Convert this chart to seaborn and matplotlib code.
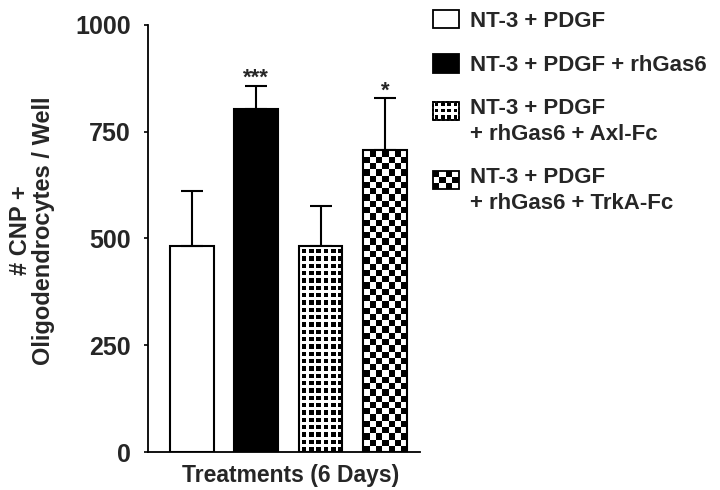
import numpy as np
import pandas as pd
import matplotlib
matplotlib.use("Agg")
import matplotlib.pyplot as plt
import seaborn as sns
from matplotlib.patches import Rectangle
from matplotlib.legend_handler import HandlerBase

# ---- data ----
treatments = ["NT-3 + PDGF", "NT-3 + PDGF + rhGas6",
              "NT-3 + PDGF + rhGas6 + Axl-Fc", "NT-3 + PDGF + rhGas6 + TrkA-Fc"]
legend_labels = ["NT-3 + PDGF", "NT-3 + PDGF + rhGas6",
                 "NT-3 + PDGF\n+ rhGas6 + Axl-Fc", "NT-3 + PDGF\n+ rhGas6 + TrkA-Fc"]
cnp_counts = [482, 803, 482, 707]
cnp_sem = [129, 55, 95, 121]
significance = ["", "***", "", "*"]
y_ticks = [0, 250, 500, 750, 1000]
patterns = ["white", "black", "dots", "checker"]

sns.set_theme(style="white")
plt.rcParams["font.family"] = ["Liberation Sans", "DejaVu Sans"]
plt.rcParams["font.weight"] = "bold"

df = pd.DataFrame({"treatment": treatments, "count": cnp_counts})

fig = plt.figure(figsize=(7.2, 4.9), dpi=100)
ax = fig.add_axes([148 / 720, 38 / 490, 272 / 720, 427 / 490])

face = {"white": "white", "black": "black", "dots": "white", "checker": "white"}
sns.barplot(data=df, x="treatment", y="count", hue="treatment",
            palette=[face[p] for p in patterns], edgecolor="black",
            linewidth=1.5, width=0.68, errorbar=None, legend=False, ax=ax,
            saturation=1)

ax.set_xlim(-0.684, 3.546)
ax.set_ylim(0, 1000)
ax.set_yticks(y_ticks)
ax.set_yticklabels([str(t) for t in y_ticks], fontsize=18, fontweight="bold")
ax.set_xticks([])
ax.tick_params(axis="y", length=3, width=1.2, pad=9.5, color="black", left=True)
for s in ["top", "right"]:
    ax.spines[s].set_visible(False)
for s in ["left", "bottom"]:
    ax.spines[s].set_color("black")
    ax.spines[s].set_linewidth(1.3)

ax.set_xlabel("Treatments (6 Days)", fontsize=16.5, fontweight="bold")
ax.xaxis.set_label_coords(0.526, -0.027)
ax.set_ylabel("# CNP +\nOligodendrocytes / Well", fontsize=17,
              fontweight="bold", linespacing=1.0)
ax.yaxis.set_label_coords(-0.342, 0.519)

bars = list(ax.patches)[:len(treatments)]

# pattern fills, generated at pixel resolution and clipped to each bar
fig.canvas.draw()
for bar, pat in zip(bars, patterns):
    if pat not in ("dots", "checker"):
        continue
    x0, y0 = bar.get_x(), bar.get_y()
    w, h = bar.get_width(), bar.get_height()
    (px0, py0), (px1, py1) = ax.transData.transform([(x0, y0), (x0 + w, y0 + h)])
    wpx, hpx = int(round(px1 - px0)), int(round(py1 - py0))
    rr, cc = np.mgrid[0:hpx, 0:wpx]
    if pat == "checker":
        sq = wpx / 7.0
        img = ((np.floor(rr / sq) + np.floor(cc / sq)) % 2 == 0).astype(float)
    else:
        pitch = wpx / 6.0
        rm = (rr % pitch) / pitch
        cm = (cc % pitch) / pitch
        img = 1.0 - (((rm > 0.32) & (rm < 0.95)) & ((cm > 0.3) & (cm < 0.93))).astype(float)
    im = ax.imshow(img, extent=(x0, x0 + w, y0, y0 + h), origin="upper",
                   cmap="gray", vmin=0, vmax=1, interpolation="nearest",
                   aspect="auto", zorder=1.5)
    im.set_clip_path(bar)
    bar.set_facecolor("none")
    bar.set_zorder(2)
ax.set_xlim(-0.684, 3.546)
ax.set_ylim(0, 1000)

# error bars (upper only) and significance stars
centers = [b.get_x() + b.get_width() / 2 for b in bars]
ax.errorbar(centers, cnp_counts, yerr=[np.zeros(len(cnp_sem)), cnp_sem],
            fmt="none", ecolor="black", elinewidth=1.5, capsize=8,
            capthick=1.5, zorder=1)
for c, v, e, s in zip(centers, cnp_counts, cnp_sem, significance):
    if s:
        ax.annotate(s, (c, v + e), xytext=(0, -2), textcoords="offset points",
                    ha="center", va="bottom", fontsize=16, fontweight="bold")


class PatternHandler(HandlerBase):
    def __init__(self, kind, shift=0.0):
        super().__init__()
        self.kind = kind
        self.shift = shift

    def create_artists(self, legend, orig_handle, xdescent, ydescent,
                       width, height, fontsize, trans):
        x0, y0 = -xdescent, -ydescent + self.shift * fontsize
        arts = [Rectangle((x0, y0), width, height,
                          facecolor="black" if self.kind == "black" else "white",
                          edgecolor="black", lw=1.3, transform=trans)]
        if self.kind == "checker":
            nx, ny = 4, 3
            for i in range(nx):
                for j in range(ny):
                    if (i + j) % 2 == 0:
                        arts.append(Rectangle((x0 + i * width / nx, y0 + j * height / ny),
                                              width / nx, height / ny, facecolor="black",
                                              edgecolor="none", transform=trans))
        elif self.kind == "dots":
            nx, ny = 4, 3
            for i in range(nx):
                for j in range(ny):
                    arts.append(Rectangle((x0 + (i + 0.25) * width / nx,
                                           y0 + (j + 0.25) * height / ny),
                                          0.55 * width / nx, 0.55 * height / ny,
                                          facecolor="black", edgecolor="none",
                                          transform=trans))
            arts.append(Rectangle((x0, y0), width, height, facecolor="none",
                                  edgecolor="black", lw=1.3, ls=(0, (1.5, 1)),
                                  transform=trans))
        return arts


handles = [Rectangle((0, 0), 1, 1) for _ in patterns]
hmap = {h: PatternHandler(p, 0.5 if "\n" in lab else 0.0)
        for h, p, lab in zip(handles, patterns, legend_labels)}
leg = fig.legend(handles, legend_labels, handler_map=hmap,
                 loc="upper left", bbox_to_anchor=(433 / 720, 1 - 10 / 490),
                 frameon=False, handlelength=1.15, handleheight=0.9,
                 handletextpad=0.5, labelspacing=1.0, borderpad=0, borderaxespad=0,
                 prop={"weight": "bold", "size": 16})
for t in leg.get_texts():
    t.set_linespacing(1.3)

fig.savefig("out.png", dpi=100)
